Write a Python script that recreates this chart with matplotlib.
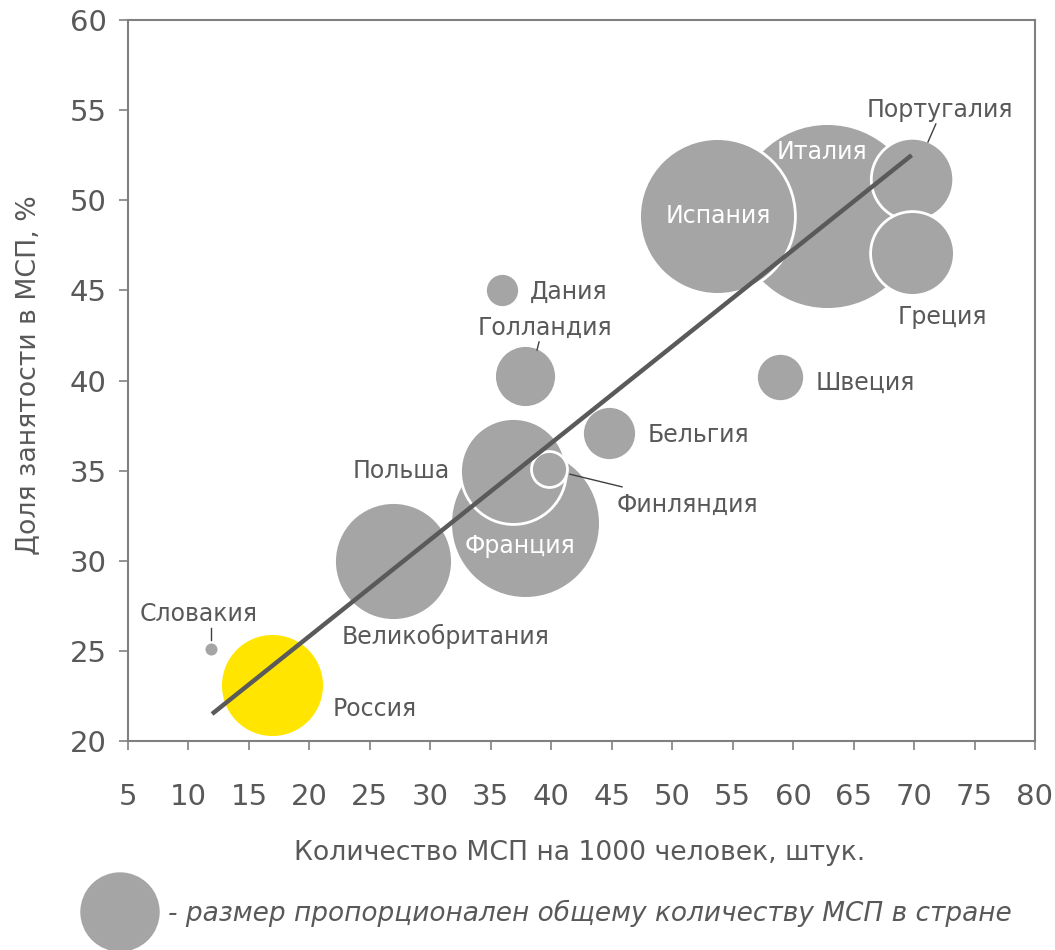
import matplotlib
matplotlib.use("Agg")
import matplotlib.pyplot as plt
from matplotlib.patches import Ellipse

# countries, SMEs per 1000 people, share of employment in SMEs (%), total SMEs (relative)
countries = ["Италия", "Испания", "Франция", "Польша", "Финляндия", "Великобритания",
             "Португалия", "Греция", "Голландия", "Бельгия", "Швеция", "Дания",
             "Словакия", "Россия"]
sme_per_1000 = [62.8, 53.7, 37.8, 36.8, 39.8, 26.9, 69.8, 69.8, 37.8, 44.8, 58.9, 35.9, 11.9, 16.9]
employment_share = [49.1, 49.1, 32.1, 35.0, 35.1, 30.0, 51.2, 47.1, 40.25, 37.1, 40.2, 45.0, 25.1, 23.1]
sme_total = [8650, 6080, 5620, 2810, 324, 3480, 1700, 1760, 960, 730, 580, 290, 55, 2700]

trend_x = [11.95, 69.8]
trend_y = [21.5, 52.5]

gray = "#a5a5a5"
yellow = "#ffe500"
txt = "#595959"

fig = plt.figure(figsize=(10.55, 9.5), dpi=100)
ax = fig.add_axes([128 / 1055, 209 / 950, 907 / 1055, 721 / 950])

k = 2.07  # area scale: points^2 per unit
for c, x, y, n in zip(countries, sme_per_1000, employment_share, sme_total):
    col = yellow if c == "Россия" else gray
    ax.scatter(x, y, s=n * k, color=col, edgecolors="white", linewidths=2, zorder=2)

ax.plot(trend_x, trend_y, color="#5a5a5a", lw=3.2, solid_capstyle="butt", zorder=3)

fs = 17
# label placement: (x, y, ha, color)
labels = {
    "Португалия": (72.15, 55.0, "center", txt),
    "Италия": (62.4, 52.7, "center", "white"),
    "Испания": (53.8, 49.1, "center", "white"),
    "Греция": (72.3, 43.5, "center", txt),
    "Швеция": (61.9, 39.9, "left", txt),
    "Дания": (38.2, 44.9, "left", txt),
    "Голландия": (39.5, 42.9, "center", txt),
    "Бельгия": (48.0, 37.0, "left", txt),
    "Польша": (31.6, 35.0, "right", txt),
    "Финляндия": (51.3, 33.1, "center", txt),
    "Франция": (37.4, 30.8, "center", "white"),
    "Великобритания": (31.3, 25.8, "center", txt),
    "Словакия": (10.8, 27.05, "center", txt),
    "Россия": (21.9, 21.8, "left", txt),
}
for c, (x, y, ha, col) in labels.items():
    ax.text(x, y, c, ha=ha, va="center", fontsize=fs, color=col, zorder=4)

leaders = [((71.15, 53.23), (71.8, 54.23)),
           ((38.99, 42.14), (38.82, 41.69)),
           ((11.86, 26.27), (11.86, 25.6)),
           ((41.55, 34.8), (45.85, 34.1))]
for (x0, y0), (x1, y1) in leaders:
    ax.plot([x0, x1], [y0, y1], color="#404040", lw=1, zorder=4)

ax.set_xlim(5, 80)
ax.set_ylim(20, 60)
ax.set_xticks(range(5, 81, 5))
ax.set_yticks(range(20, 61, 5))
for s in ax.spines.values():
    s.set_color("#808080")
    s.set_linewidth(1.5)
ax.tick_params(axis="both", colors="#808080", labelcolor=txt, labelsize=21, width=1.2, length=6.5)
ax.tick_params(axis="x", pad=24)
ax.tick_params(axis="y", pad=9)

fig.text(28 / 1055, 1 - 375 / 950, "Доля занятости в МСП, %", rotation=90,
         ha="center", va="center", fontsize=19.3, color=txt)
fig.text(580 / 1055, 1 - 853 / 950, "Количество МСП на 1000 человек, штук.",
         ha="center", va="center", fontsize=19.2, color=txt)

fig.add_artist(Ellipse((120 / 1055, 1 - 912 / 950), 78 / 1055, 78 / 950, color=gray))
fig.text(168 / 1055, 1 - 913 / 950, "- размер пропорционален общему количеству МСП в стране",
         ha="left", va="center", fontsize=19, color=txt, style="italic")

fig.savefig("out.png", dpi=100)
